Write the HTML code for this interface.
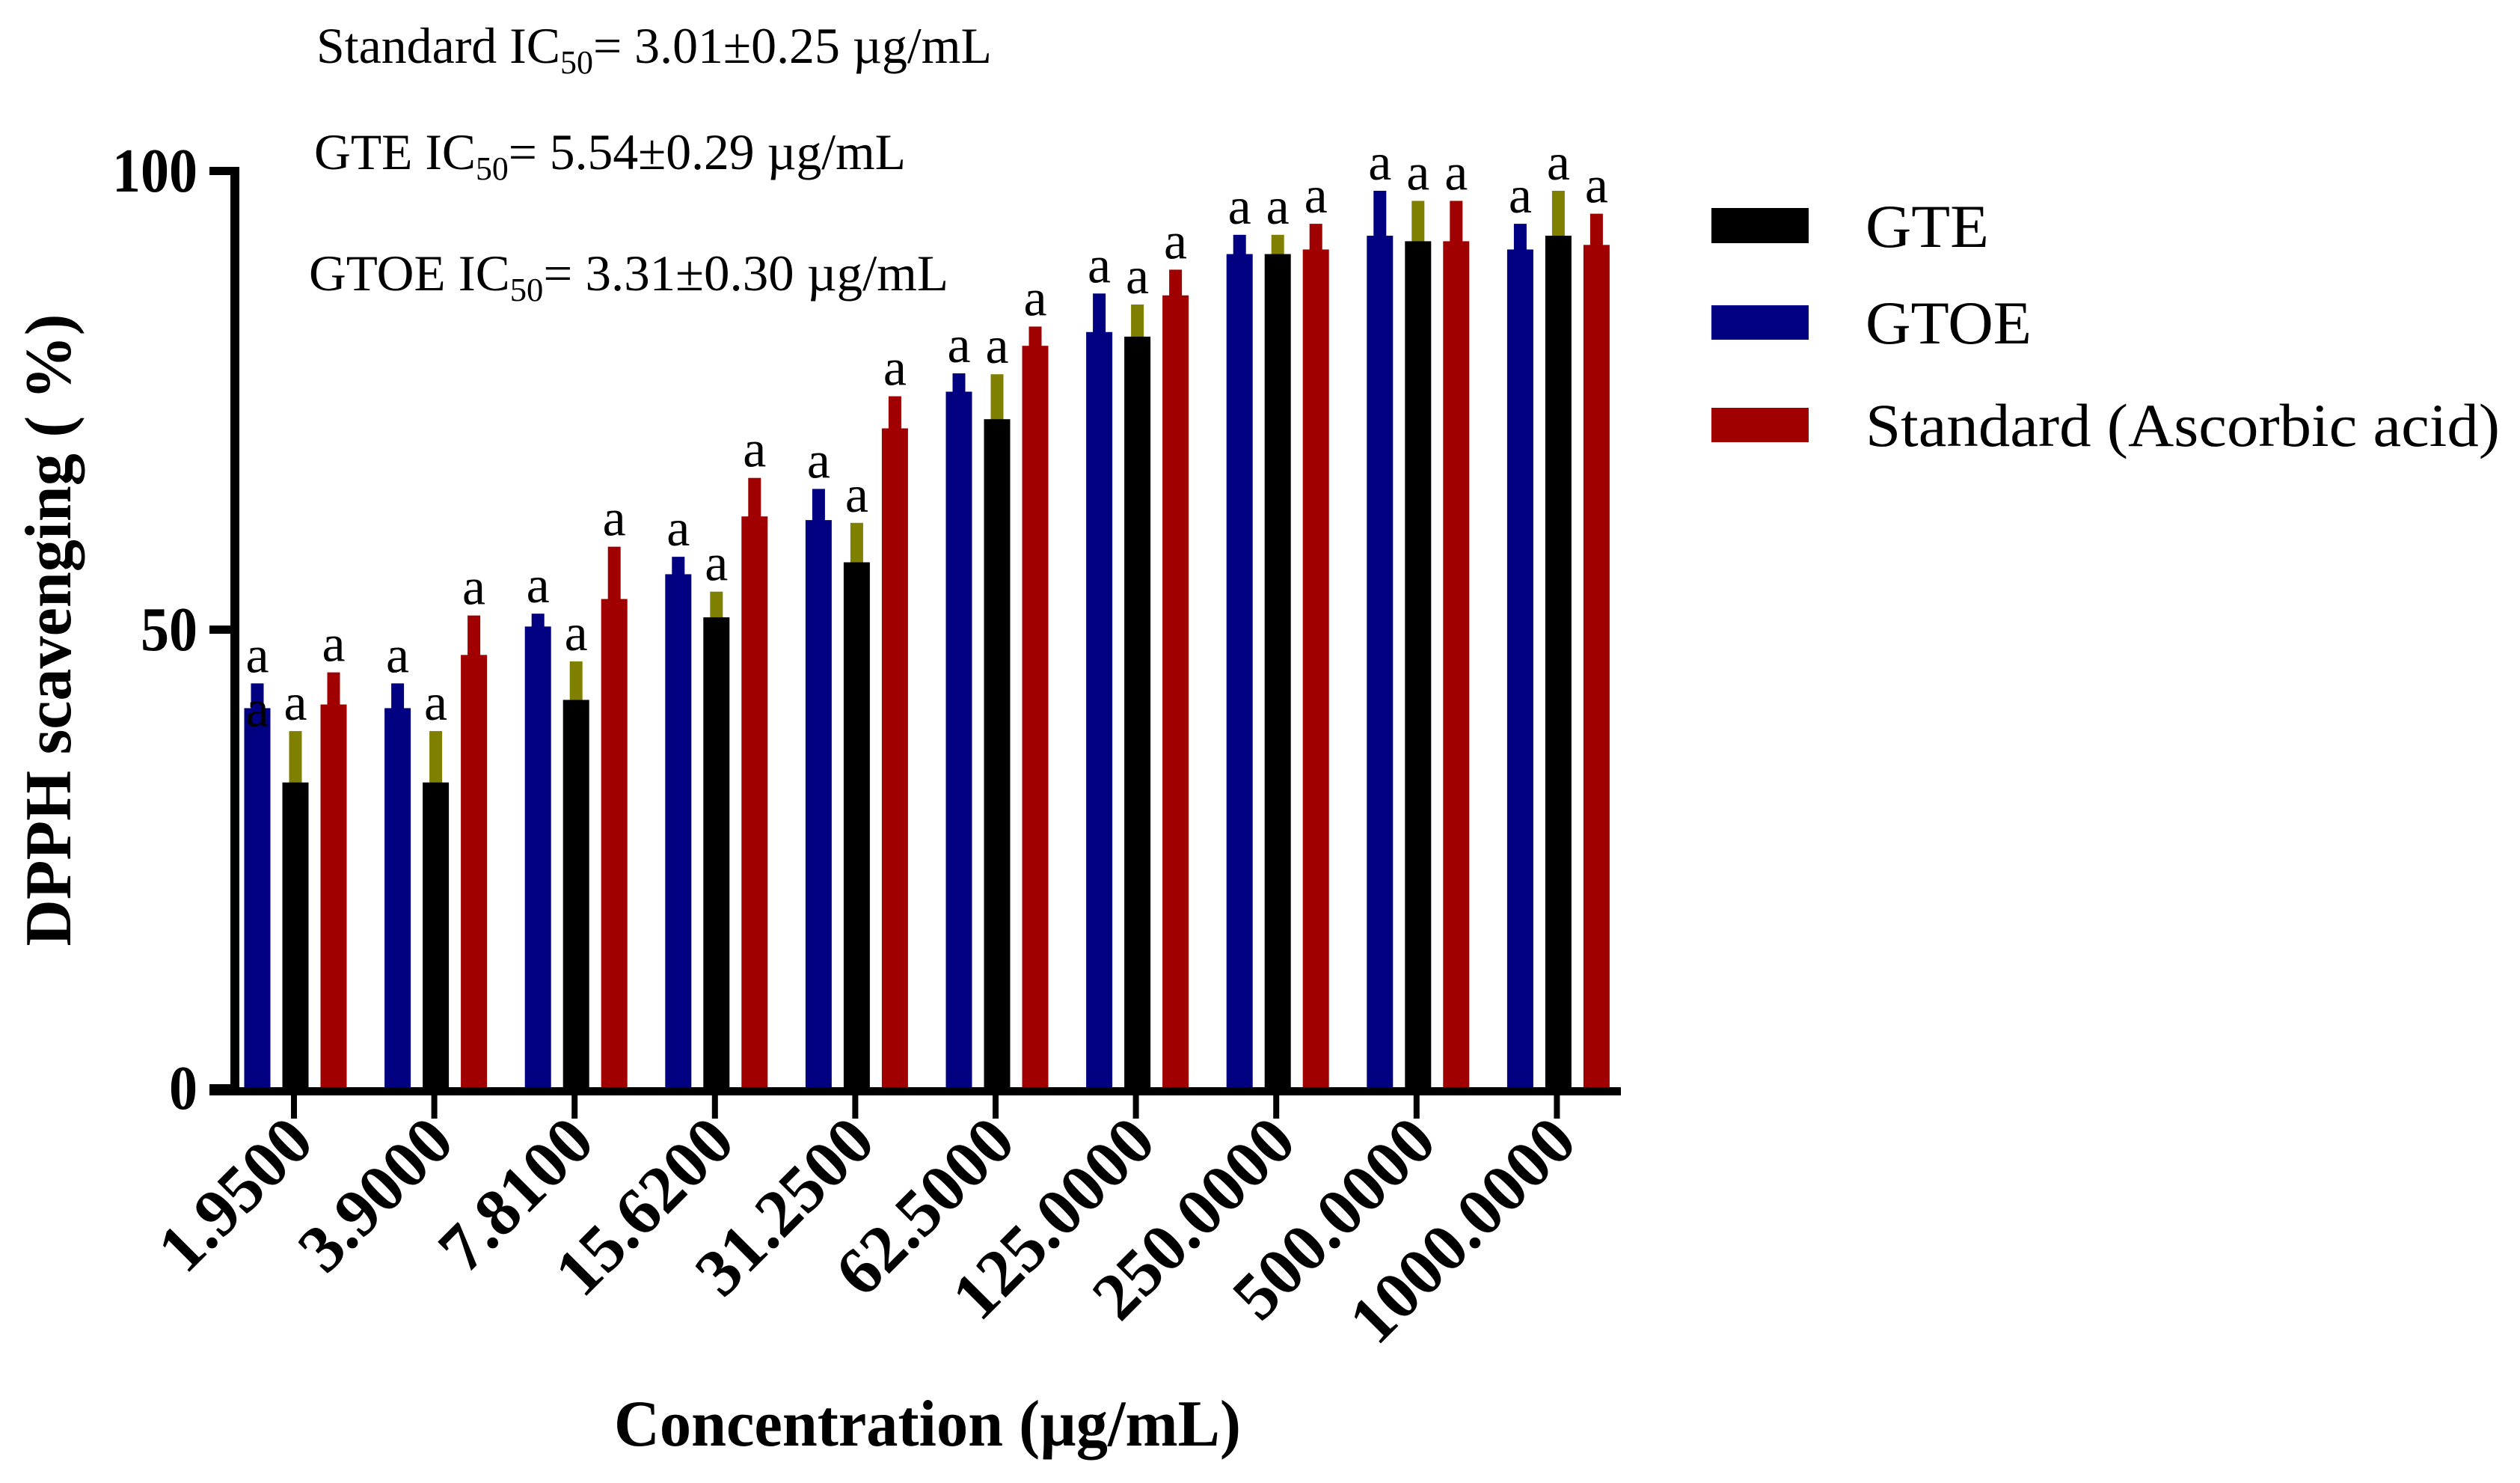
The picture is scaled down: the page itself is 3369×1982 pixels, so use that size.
<!DOCTYPE html>
<html>
<head>
<meta charset="utf-8">
<style>
html,body{margin:0;padding:0;background:#fff;}
svg{display:block;}
text{font-family:"Liberation Serif","Times New Roman",serif;fill:#000;}
</style>
</head>
<body>
<svg id="chart" width="3369" height="1982" viewBox="0 0 3369 1982" xmlns="http://www.w3.org/2000/svg">
  <g id="annotations">
    <text x="423" y="84" font-size="68" textLength="903" lengthAdjust="spacingAndGlyphs">Standard IC<tspan font-size="44" dy="14">50</tspan><tspan dy="-14">= 3.01±0.25 µg/mL</tspan></text>
    <text x="420" y="226" font-size="68" textLength="791" lengthAdjust="spacingAndGlyphs">GTE IC<tspan font-size="44" dy="14">50</tspan><tspan dy="-14">= 5.54±0.29 µg/mL</tspan></text>
    <text x="413" y="388" font-size="68" textLength="855" lengthAdjust="spacingAndGlyphs">GTOE IC<tspan font-size="44" dy="14">50</tspan><tspan dy="-14">= 3.31±0.30  µg/mL</tspan></text>
  </g>
  <g id="bars"></g>
  <g id="axes"></g>
  <g id="legend">
    <rect x="2288" y="278" width="130" height="47" fill="#000000"/>
    <text x="2494" y="330" font-size="82" textLength="165" lengthAdjust="spacingAndGlyphs">GTE</text>
    <rect x="2288" y="408" width="130" height="46" fill="#000080"/>
    <text x="2494" y="459" font-size="82" textLength="222" lengthAdjust="spacingAndGlyphs">GTOE</text>
    <rect x="2288" y="545" width="130" height="46" fill="#a00000"/>
    <text x="2494" y="596" font-size="82" textLength="848" lengthAdjust="spacingAndGlyphs">Standard (Ascorbic acid)</text>
  </g>
  <text x="1240" y="1932" font-size="88" font-weight="bold" text-anchor="middle" textLength="838" lengthAdjust="spacingAndGlyphs">Concentration (µg/mL)</text>
  <text transform="translate(94,842) rotate(-90)" font-size="88" font-weight="bold" text-anchor="middle" textLength="845" lengthAdjust="spacingAndGlyphs">DPPH scavenging ( %)</text>
</svg>
<script>
const categories = ["1.9500","3.9000","7.8100","15.6200","31.2500","62.5000","125.0000","250.0000","500.0000","1000.0000"];
const gtoeMean = [41.4,41.4,50.3,56.0,61.9,75.9,82.4,90.9,92.9,91.4];
const gtoeErr  = [2.7,2.7,1.4,1.9,3.4,2.0,4.2,2.1,4.9,2.8];
const gteMean  = [33.3,33.3,42.3,51.3,57.3,72.9,81.9,90.9,92.3,92.9];
const gteErr   = [5.6,5.6,4.2,2.8,4.3,4.9,3.5,2.1,4.4,4.9];
const stdMean  = [41.8,47.2,53.3,62.3,71.9,80.9,86.4,91.4,92.3,91.9];
const stdErr   = [3.5,4.3,5.7,4.2,3.5,2.1,2.8,2.8,4.4,3.4];
const yTicks = [0,50,100];
const yTickLabels = ["0","50","100"];

const NS = "http://www.w3.org/2000/svg";
const Y0 = 1454, Y100 = 228;
function yScale(v){ return Y0 - (Y0 - Y100) * v / 100; }
function xScale(i){ return 393 + i * 187.6; }

const bars = document.getElementById('bars');
const axes = document.getElementById('axes');
function mk(tag, attrs, parent){
  const e = document.createElementNS(NS, tag);
  for (const k in attrs) e.setAttribute(k, attrs[k]);
  parent.appendChild(e);
  return e;
}
const series = [
  {name:'gtoe', mean:gtoeMean, err:gtoeErr, color:'#000080', errColor:'#000080', off:-49},
  {name:'gte', mean:gteMean, err:gteErr, color:'#000000', errColor:'#808000', off:2},
  {name:'standard', mean:stdMean, err:stdErr, color:'#a00000', errColor:'#a00000', off:53}
];
const BW = 35, EW = 17;
series.forEach(s => {
  categories.forEach((c, i) => {
    const cx = xScale(i) + s.off;
    const top = yScale(s.mean[i]);
    const etop = yScale(s.mean[i] + s.err[i]);
    const eb = mk('rect', {x: cx - EW/2, y: etop, width: EW, height: top - etop + 1, fill: s.errColor}, bars);
    
    
    const r = mk('rect', {x: cx - BW/2, y: top, width: BW, height: Y0 - top, fill: s.color}, bars);
    
    
    const t = mk('text', {x: cx, y: etop - 15, 'font-size': 70, 'text-anchor': 'middle'}, bars);
    t.textContent = 'a';
    
    
    if (s.name === 'gtoe' && i === 0) {
      const t2 = mk('text', {x: cx, y: top + 24, 'font-size': 70, 'text-anchor': 'middle'}, bars);
      t2.textContent = 'a';
      
      
    }
  });
});

// axes
const yAxis = mk('rect', {x: 308, y: Y100 - 5, width: 12, height: Y0 - Y100 + 10, fill: '#000'}, axes);


const xAxis = mk('rect', {x: 280, y: Y0 - 1, width: 1887, height: 11, fill: '#000'}, axes);


yTicks.forEach((v, k) => {
  const y = yScale(v);
  const tk = mk('rect', {x: 280, y: y - 5, width: 32, height: 11, fill: '#000'}, axes);
  
  
  const lb = mk('text', {x: 264, y: y + 28, 'font-size': 84, 'font-weight': 'bold', 'text-anchor': 'end', textLength: 38 * yTickLabels[k].length, lengthAdjust: 'spacingAndGlyphs'}, axes);
  lb.textContent = yTickLabels[k];
  
  
});
categories.forEach((c, i) => {
  const x = xScale(i);
  const tk = mk('rect', {x: x - 4, y: Y0, width: 8, height: 41, fill: '#000'}, axes);
  
  
  const lb = mk('text', {transform: 'translate(' + (x + 30) + ',1530) rotate(-45)', 'font-size': 90, 'font-weight': 'bold', 'text-anchor': 'end'}, axes);
  lb.textContent = c;
  
  
});
</script>
</body>
</html>
